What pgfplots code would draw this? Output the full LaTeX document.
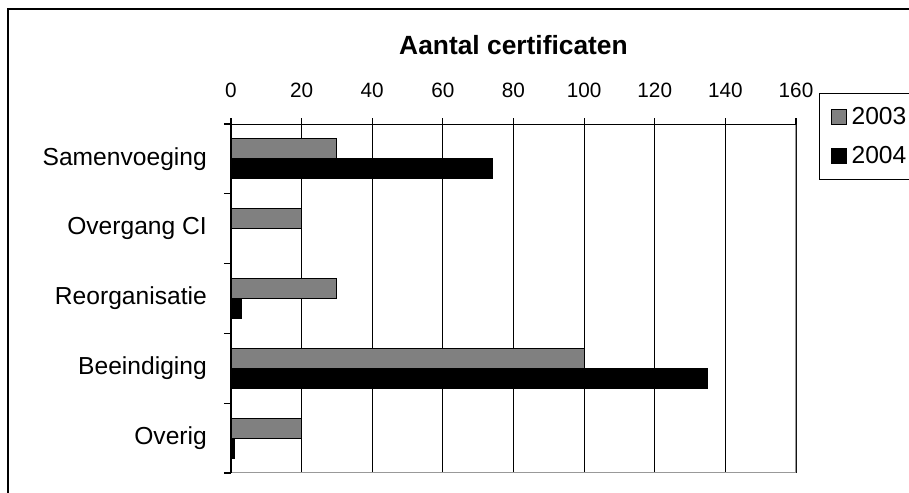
\documentclass[border=0pt]{standalone}
\usepackage{pgfplots}
\pgfplotsset{compat=1.18}
\usepackage{fontspec}
\setmainfont{Liberation Sans}

\pgfplotsset{sqlegend/.style={legend image code/.code={%
  \draw[##1,line width=0.6pt] (0cm,-0.15cm) rectangle (0.3cm,0.15cm);}}}

\begin{document}
\begin{tikzpicture}
\begin{axis}[
    at={(4.62cm,-2.48cm)}, anchor=north west,
    scale only axis,
    width=11.3cm, height=6.98cm,
    xmin=0, xmax=160,
    ymin=-0.5, ymax=4.5,
    xtick={0,20,...,160},
    xtick pos=right, xticklabel pos=right,
    ytick pos=left,
    tick align=outside,
    ytick={0,1,2,3,4},
    yticklabels={Overig,Beeindiging,Reorganisatie,Overgang CI,Samenvoeging},
    minor ytick={-0.5,0.5,...,4.5},
    major tick length=0.12cm,
    minor tick length=0.14cm,
    major y tick style={draw=none},
    minor y tick style={black, line width=0.6pt},
    major x tick style={black, line width=0.6pt},
    xmajorgrids,
    major grid style={black, line width=0.6pt},
    axis line style={draw=none},
    xticklabel={\fontsize{11.8}{14}\selectfont\pgfmathprintnumber[assume math mode=true]{\tick}},
    every x tick label/.append style={yshift=0.28cm},
    every y tick label/.append style={font=\fontsize{14}{16}\selectfont, xshift=-0.24cm},
    title={Aantal certificaten},
    title style={at={(0.5,1.195)}, anchor=center, font=\bfseries\fontsize{15}{18}\selectfont},
    legend style={at={(rel axis cs:1.0407,1.0888)}, anchor=north west,
        draw=black, line width=0.6pt,
        row sep=0.25cm, inner xsep=0.22cm, inner ysep=0.2cm,
        nodes={text width=2.6cm, inner xsep=0.1cm}},
    legend cell align=left,
]
\addplot[xbar, bar width=0.4cm, bar shift=0.2cm, fill=black!50, draw=black, line width=0.6pt, sqlegend]
  coordinates {(30,4) (20,3) (30,2) (100,1) (20,0)};
\addlegendentry{\fontsize{14}{17}\selectfont 2003}
\addplot[xbar, bar width=0.4cm, bar shift=-0.2cm, fill=black, draw=black, line width=0.6pt, sqlegend]
  coordinates {(74,4) (0,3) (3,2) (135,1) (1,0)};
\addlegendentry{\fontsize{14}{17}\selectfont 2004}
\draw[black!40, line width=0.7pt] (rel axis cs:1,1) -- (rel axis cs:1,0) -- (rel axis cs:0,0);
\draw[black, line width=0.6pt] (rel axis cs:0,0) -- (rel axis cs:0,1) -- (rel axis cs:1,1);
\end{axis}
\draw[line width=0.8pt] (0.16cm,-0.18cm) rectangle (19cm,-11cm);
\pgfresetboundingbox
\useasboundingbox (0,0) rectangle (18.18cm,-9.84cm);
\end{tikzpicture}
\end{document}
